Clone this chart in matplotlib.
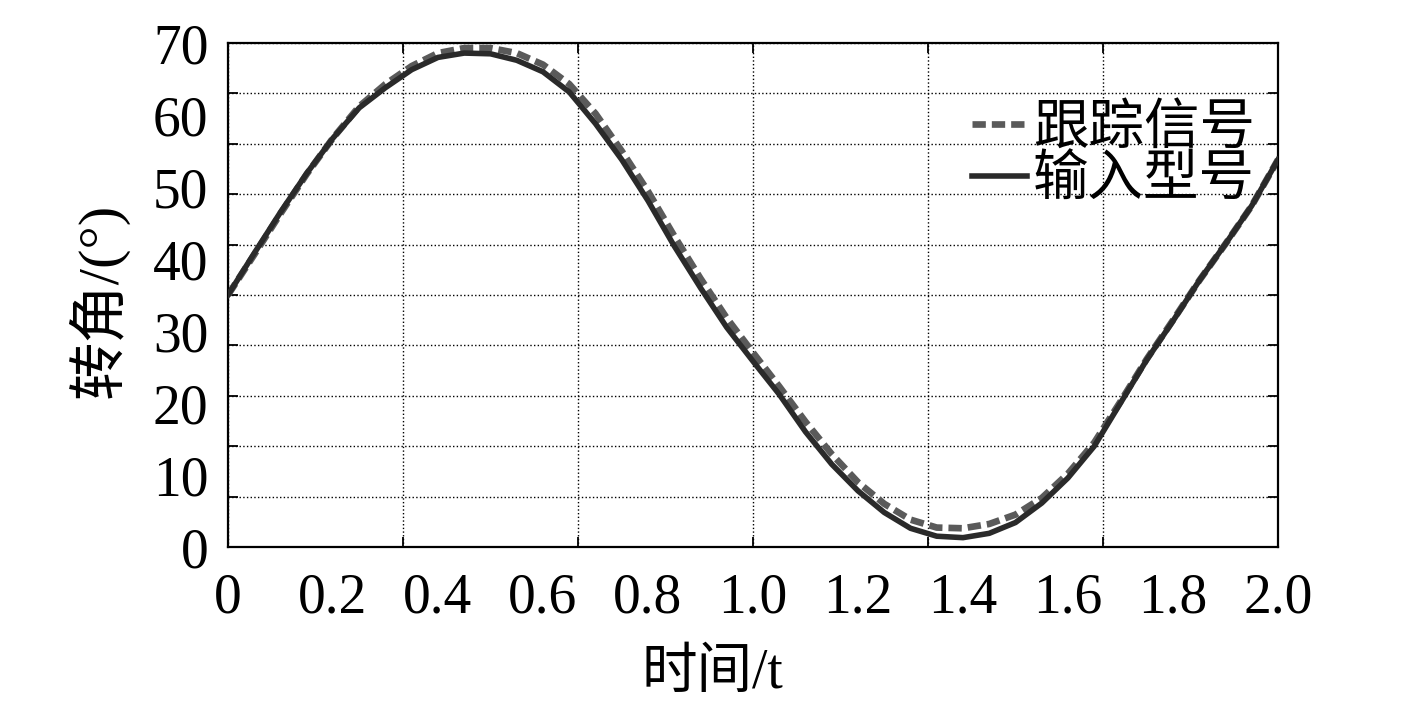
import numpy as np
import matplotlib.pyplot as plt

plt.rcParams['font.family'] = ['Liberation Serif', 'Noto Sans CJK SC']

# time axis and the two signals
t = np.arange(0, 2.0001, 0.05)
inputSig = [35.0, 40.8, 46.5, 51.9, 56.8, 61.0, 63.8, 66.3, 68.0, 68.6,
            68.5, 67.6, 66.0, 63.2, 58.8, 53.8, 48.1, 41.8, 36.0, 30.5,
            25.8, 21.2, 16.0, 11.5, 7.8, 4.8, 2.6, 1.5, 1.3, 1.9,
            3.4, 6.1, 9.6, 14.0, 20.0, 26.0, 31.4, 37.0, 42.1, 47.4, 53.8]
trackSig = [35.0, 40.6, 46.3, 51.8, 56.8, 61.2, 64.3, 66.8, 68.6, 69.3,
            69.3, 68.6, 67.0, 64.3, 60.2, 55.0, 49.4, 43.2, 37.3, 31.8,
            27.0, 22.3, 17.4, 12.9, 9.0, 6.0, 3.8, 2.7, 2.6, 3.2,
            4.5, 6.8, 10.2, 14.5, 20.2, 26.1, 31.5, 37.0, 42.1, 47.4, 53.8]

labels = ['跟踪信号', '输入型号']
xTickLabels = ['0', '0.2', '0.4', '0.6', '0.8', '1.0', '1.2', '1.4', '1.6', '1.8', '2.0']
yTickLabels = ['0', '10', '20', '30', '40', '50', '60', '70']

fig = plt.figure(figsize=(14.17, 7.05), dpi=100)
ax = fig.add_axes([0.1609, 0.2241, 0.741, 0.7149])

lineTrack, = ax.plot(t, trackSig, color='#5a5a5a', lw=4.8,
                     ls=(0, (2.0, 0.9)), zorder=2)
lineInput, = ax.plot(t, inputSig, color='#2a2a2a', lw=4.0, zorder=3)

ax.set_xlim(0, 2.0)
ax.set_ylim(0, 70)

# grid follows the (unlabelled) major ticks, labels sit on minor ticks
ax.xaxis.remove_overlapping_locs = False
ax.yaxis.remove_overlapping_locs = False
ax.set_xticks(np.linspace(0, 2.0, 7))
ax.set_yticks(np.linspace(0, 70, 11))
ax.set_xticklabels([])
ax.set_yticklabels([])
ax.set_xticks(np.linspace(0, 2.0, 11), minor=True)
ax.set_yticks(np.linspace(0, 70, 8), minor=True)
ax.set_xticklabels(xTickLabels, minor=True)
ax.set_yticklabels(yTickLabels, minor=True)

ax.tick_params(which='major', direction='in', length=7, width=1.3,
               top=True, right=True)
ax.tick_params(which='minor', length=0, labelsize=40)
ax.tick_params(axis='x', which='minor', pad=18)
ax.tick_params(axis='y', which='minor', pad=14)

ax.grid(which='major', color='black', ls=':', lw=1.0)
for sp in ax.spines.values():
    sp.set_linewidth(1.6)

ax.set_xlabel('时间/t', fontsize=40)
ax.xaxis.set_label_coords(0.461, -0.2)
ax.set_ylabel('转角/(°)', fontsize=42)
ax.yaxis.set_label_coords(-0.095, 0.49)

ax.legend([lineTrack, lineInput], labels, loc='upper right',
          bbox_to_anchor=(0.978, 0.88), frameon=False, fontsize=40,
          handlelength=1.0, handletextpad=0.1, labelspacing=0.0,
          borderpad=0, borderaxespad=0)

fig.savefig('out.png', dpi=100)
